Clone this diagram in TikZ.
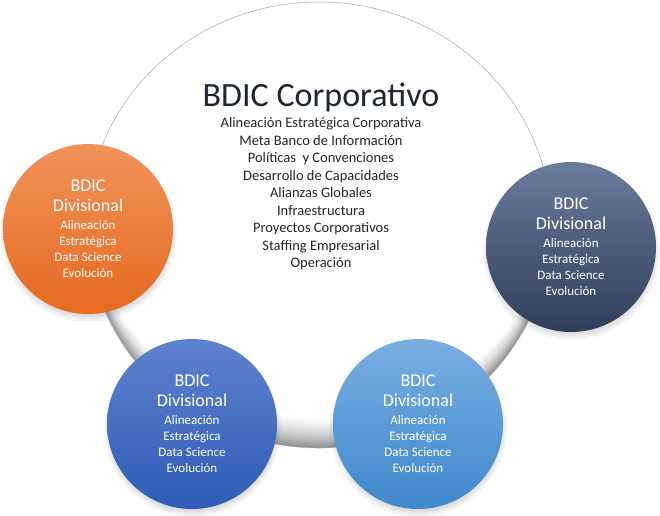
\documentclass[tikz,border=0pt]{standalone}
\usepackage{fontspec}
\setmainfont{Carlito}
\usetikzlibrary{shadows}
\definecolor{orangeTop}{RGB}{242,146,92}
\definecolor{orangeBot}{RGB}{228,106,30}
\definecolor{slateTop}{RGB}{106,124,156}
\definecolor{slateBot}{RGB}{46,62,90}
\definecolor{blueTop}{RGB}{94,130,206}
\definecolor{blueBot}{RGB}{46,92,182}
\definecolor{skyTop}{RGB}{122,174,226}
\definecolor{skyBot}{RGB}{62,136,204}
\definecolor{titleC}{RGB}{30,38,50}
\definecolor{listC}{RGB}{38,38,38}
\newcommand\dvbig{\fontsize{18}{21}\selectfont}
\newcommand\dvsmall{\fontsize{13}{16}\selectfont}
\newcommand\divtext{{\dvbig BDIC}\\[4pt]{\dvbig Divisional}\\[2pt]Alineación\\Estratégica\\Data Science\\Evolución}
\begin{document}
\begin{tikzpicture}[x=1pt,y=-1pt,
  division/.style={circle, minimum size=170pt, inner sep=0pt, text=white,
    align=center, font=\dvsmall,
    circular drop shadow={shadow xshift=0pt, shadow yshift=-4pt, shadow scale=1.05, opacity=0.45}},
  bigring/.style={draw=black!32, line width=0.5pt}]
\useasboundingbox (0,0) rectangle (660,515);
% big corporate ellipse with bevel at the bottom
\foreach \i in {0,...,16}{
  \pgfmathsetmacro\c{42*(1-\i/16)^1.6}
  \fill[black!\c] (319,{225-\i}) ellipse [x radius={232pt-0.25pt*\i}, y radius={223pt-1pt*\i}];
}
\coordinate (corp) at (319,225);
\draw[bigring] (corp) ellipse [x radius=232pt, y radius=223pt];
\node[font=\fontsize{34}{40}\selectfont, text=titleC] (title) at (321,97) {BDIC Corporativo};
\node[font=\fontsize{14.5}{17.5}\selectfont, text=listC, align=center] (list) at (321,194)
  {Alineación Estratégica Corporativa\\Meta Banco de Información\\Políticas\ \ y Convenciones\\Desarrollo de Capacidades\\Alianzas Globales\\Infraestructura\\Proyectos Corporativos\\Staffing Empresarial\\Operación};
% divisional circles
\node[division, top color=orangeTop, bottom color=orangeBot] (d1) at (88,229) {\divtext};
\node[division, top color=slateTop, bottom color=slateBot] (d2) at (571,247) {\divtext};
\node[division, top color=blueTop, bottom color=blueBot] (d3) at (192,424) {\divtext};
\node[division, top color=skyTop, bottom color=skyBot] (d4) at (418,424) {\divtext};
\end{tikzpicture}
\end{document}
